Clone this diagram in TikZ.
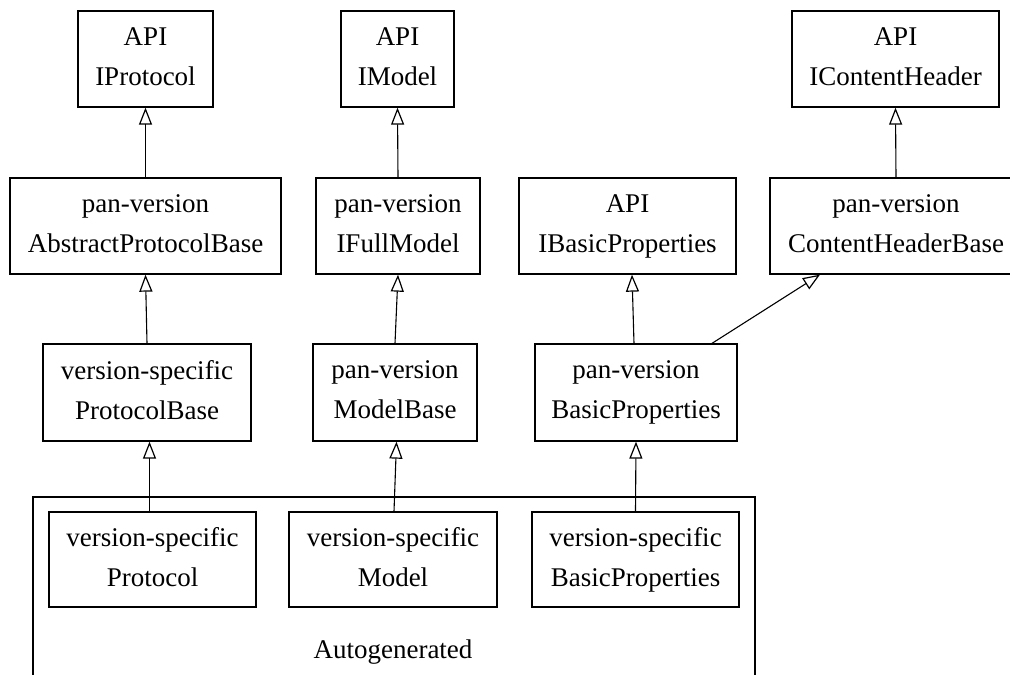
\documentclass[tikz,border=0pt]{standalone}
\usepackage{fontspec}
\setmainfont{Liberation Serif}
\usetikzlibrary{arrows.meta}
\begin{document}
\begin{tikzpicture}[x=1pt,y=-1pt,
  box/.style={draw, line width=1.3pt, inner sep=0pt, align=center,
    minimum height=96pt, font=\fontsize{27}{40}\selectfont,
    execute at begin node={\vphantom{Ap}}, execute at end node={\vphantom{Ap}}},
  inh/.style={line width=1.1pt, -{Triangle[open, length=17pt, width=13pt, line width=1.2pt]}},
  lbl/.style={font=\fontsize{27}{40}\selectfont, inner sep=0pt}]
\useasboundingbox (0,0) rectangle (1010,675);
% cluster
\draw[line width=1.3pt] (33,680) -- (33,497) -- (755,497) -- (755,680);
\node[lbl, anchor=base] (auto) at (393,658) {Autogenerated};
% row 1
\node[box, minimum width=135pt] (ip) at (145.5,59) {API\\IProtocol};
\node[box, minimum width=113pt] (im) at (397.5,59) {API\\IModel};
\node[box, minimum width=207pt] (ich) at (895.5,59) {API\\IContentHeader};
% row 2
\node[box, minimum width=271pt] (apb) at (145.5,226) {pan-version\\AbstractProtocolBase};
\node[box, minimum width=164pt] (ifm) at (398,226) {pan-version\\IFullModel};
\node[box, minimum width=217pt] (ibp) at (627.5,226) {API\\IBasicProperties};
\node[box, minimum width=252pt] (chb) at (896,226) {pan-version\\ContentHeaderBase};
% row 3
\node[box, minimum width=208pt, minimum height=97pt] (pb) at (147,392.5) {version-specific\\ProtocolBase};
\node[box, minimum width=164pt, minimum height=97pt] (mb) at (395,392.5) {pan-version\\ModelBase};
\node[box, minimum width=202pt, minimum height=97pt] (bp) at (636,392.5) {pan-version\\BasicProperties};
% row 4
\node[box, minimum width=207pt, minimum height=95pt] (prot) at (152.5,559.5) {version-specific\\Protocol};
\node[box, minimum width=208pt, minimum height=95pt] (model) at (393,559.5) {version-specific\\Model};
\node[box, minimum width=207pt, minimum height=95pt] (vbp) at (635.5,559.5) {version-specific\\BasicProperties};
% edges
\draw[inh] (apb.north) -- (ip.south);
\draw[inh] (ifm.north) -- (im.south);
\draw[inh] (chb.north) -- (ich.south);
\draw[inh] (pb.north) -- (apb.south);
\draw[inh] (mb.north) -- (ifm.south);
\draw[inh] ([xshift=-2pt]bp.north) -- ([xshift=4.5pt]ibp.south);
\draw[inh] ([xshift=76pt]bp.north) -- ([xshift=-76pt]chb.south);
\draw[inh] ([xshift=-3pt]prot.north) -- ([xshift=2.5pt]pb.south);
\draw[inh] ([xshift=1pt]model.north) -- ([xshift=1.5pt]mb.south);
\draw[inh] (vbp.north) -- (bp.south);
\end{tikzpicture}
\end{document}
